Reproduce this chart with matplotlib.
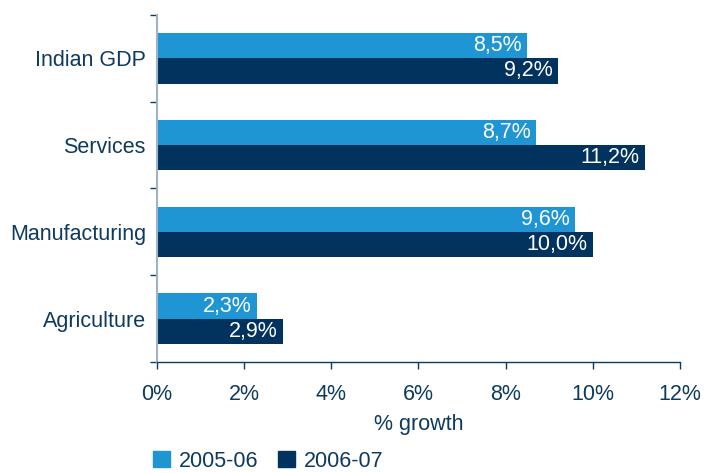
import numpy as np
import matplotlib
matplotlib.use("Agg")
import matplotlib.pyplot as plt
from matplotlib.patches import Patch

# growth by sector, top to bottom
sectors = ["Indian GDP", "Services", "Manufacturing", "Agriculture"]
growth_0506 = [8.5, 8.7, 9.6, 2.3]
growth_0607 = [9.2, 11.2, 10.0, 2.9]
years = ["2005-06", "2006-07"]

light = "#1f95d3"
dark = "#01335e"
navy = "#0d3a5e"

plt.rcParams["font.family"] = ["Liberation Sans", "DejaVu Sans"]
plt.rcParams["font.size"] = 15.5

fig = plt.figure(figsize=(7.04, 4.73), dpi=100)
ax = fig.add_axes([0.223, 0.2347, 0.7429, 0.7336])

y = np.arange(len(sectors))
h = 0.29
b1 = ax.barh(y - h / 2, growth_0506, height=h, color=light)
b2 = ax.barh(y + h / 2, growth_0607, height=h, color=dark)

def fmt(v):
    return f"{v:.1f}%".replace(".", ",")

for bars, vals in [(b1, growth_0506), (b2, growth_0607)]:
    for rect, v in zip(bars, vals):
        ax.annotate(fmt(v), (v, rect.get_y() + rect.get_height() / 2),
                    xytext=(-4, 0), textcoords="offset points",
                    ha="right", va="center", color="white", fontsize=15.5)

ax.set_ylim(len(sectors) - 0.5, -0.5)
ax.set_xlim(0, 12)
ax.set_yticks(y)
ax.set_yticklabels(sectors, color=navy)
ax.set_yticks(np.arange(len(sectors) + 1) - 0.5, minor=True)
ax.tick_params(axis="y", which="major", length=0, pad=8)
ax.tick_params(axis="y", which="minor", length=5, color=navy, width=1)

ax.set_xticks(range(0, 13, 2))
ax.set_xticklabels([f"{t}%" for t in range(0, 13, 2)], color=navy)
ax.tick_params(axis="x", length=5, color=navy, width=1, pad=11)
ax.set_xlabel("% growth", color=navy, labelpad=6)

for s in ["top", "right"]:
    ax.spines[s].set_visible(False)
ax.spines["left"].set_color("#9fb2c6")
ax.spines["left"].set_linewidth(1.5)
ax.spines["bottom"].set_color(navy)
ax.spines["bottom"].set_linewidth(1)

handles = [Patch(color=light), Patch(color=dark)]
fig.legend(handles, years, loc="lower left", bbox_to_anchor=(0.19, -0.038),
           ncol=2, frameon=False, handlelength=0.8, handleheight=0.8,
           handletextpad=0.4, columnspacing=0.9, labelcolor=navy, fontsize=15.5)

fig.savefig("out.png", dpi=100)
